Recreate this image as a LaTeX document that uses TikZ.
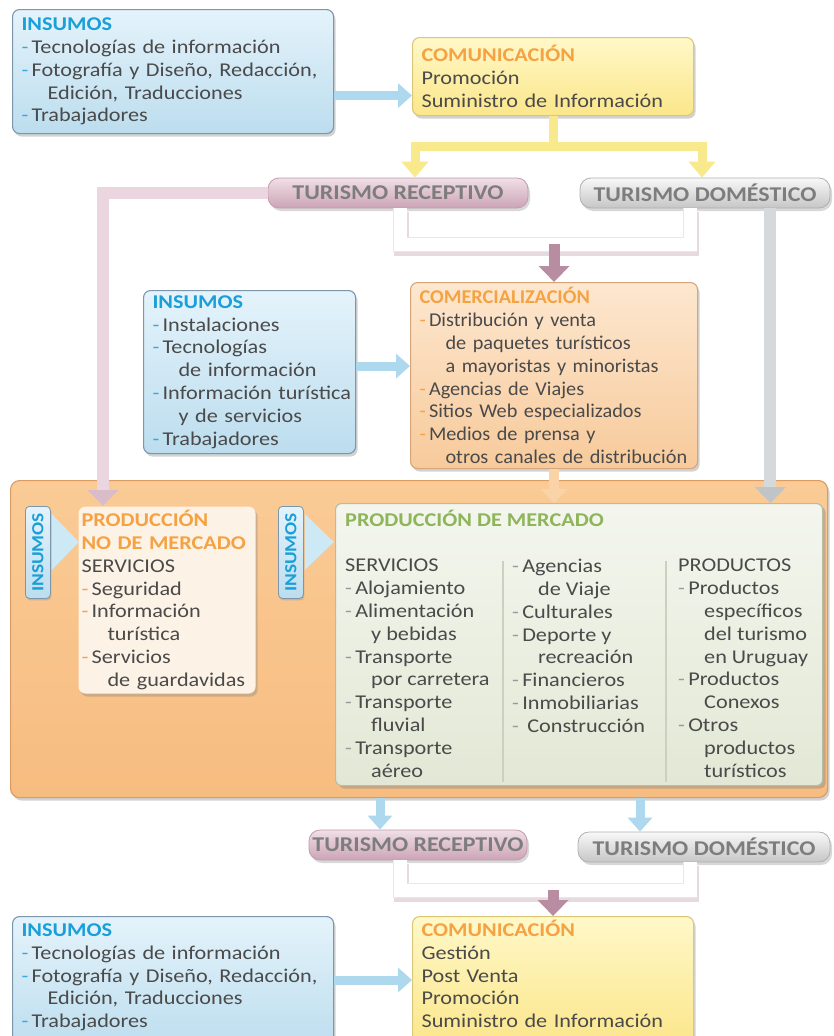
\documentclass[tikz,border=0pt]{standalone}
\usepackage{fontspec}
\usepackage{graphicx}
\setmainfont{Carlito}[FakeStretch=1.14]
\newfontfamily\condf{Carlito}[FakeStretch=1.04]
\usetikzlibrary{arrows.meta,shadows,calc}
\definecolor{ttlblue}{HTML}{1A9FD8}
\definecolor{bulblue}{HTML}{3AA8DC}
\definecolor{ttlorange}{HTML}{F5A243}
\definecolor{ttlgreen}{HTML}{8DB55A}
\definecolor{bulgray}{HTML}{9A9A9A}
\definecolor{txt}{HTML}{4A4A4A}
\definecolor{turtxt}{HTML}{7D7D7D}
\definecolor{bf1}{HTML}{E4F3FB}
\definecolor{bf2}{HTML}{BCDDEE}
\definecolor{bbord}{HTML}{7C97AB}
\definecolor{yf1}{HTML}{FFF8C8}
\definecolor{yf2}{HTML}{FBE68A}
\definecolor{ybord}{HTML}{DCC678}
\definecolor{cf1}{HTML}{FDE7CF}
\definecolor{cf2}{HTML}{F7CA9B}
\definecolor{cbord}{HTML}{D7A57A}
\definecolor{gf1}{HTML}{FACB96}
\definecolor{gf2}{HTML}{F7BC80}
\definecolor{gbord}{HTML}{D99C62}
\definecolor{pnmfill}{HTML}{FDF2E6}
\definecolor{pf1}{HTML}{F4F6EE}
\definecolor{pf2}{HTML}{E2E8D5}
\definecolor{pbord}{HTML}{B5BDA4}
\definecolor{rf1}{HTML}{F0DFE6}
\definecolor{rf2}{HTML}{CCA4B5}
\definecolor{rbord}{HTML}{C29CAC}
\definecolor{df1}{HTML}{F8F8F8}
\definecolor{df2}{HTML}{C6C6C6}
\definecolor{dbord}{HTML}{B0B0B0}
\definecolor{arrblue}{HTML}{AED8EE}
\definecolor{arryel}{HTML}{F8EA8C}
\definecolor{pinkl}{HTML}{EBD5DF}
\definecolor{pinkt}{HTML}{D8BCC8}
\definecolor{grayl}{HTML}{D5D9DB}
\definecolor{grayt}{HTML}{BFC4C7}
\definecolor{mauve}{HTML}{B98DA1}
\definecolor{orarr}{HTML}{FAD3A8}
\definecolor{tabarr}{HTML}{CDE9F6}
\definecolor{brshadow}{HTML}{E6DADF}
\newcommand\bodyf{\fontsize{19.5}{22.8}\selectfont}
\newcommand\turf{\fontsize{21}{24}\selectfont\bfseries}
\newcommand\tabf{\fontsize{17}{20}\selectfont\bfseries}
\newcommand\ttB[1]{\textcolor{ttlblue}{\bfseries #1}}
\newcommand\ttO[1]{\textcolor{ttlorange}{\bfseries #1}}
\newcommand\ttG[1]{\textcolor{ttlgreen}{\bfseries #1}}
\newcommand\bbu{\textcolor{bulblue}{-}\,}
\newcommand\obu{\textcolor{ttlorange}{-}\,}
\newcommand\gbu{\textcolor{bulgray}{-}\,}
\newcommand\indd{\hspace*{26pt}}
\begin{document}
\begin{tikzpicture}[x=1pt,y=-1pt,
  box/.style={rounded corners=7pt, line width=1.1pt,
    drop shadow={shadow xshift=2pt,shadow yshift=-3pt,opacity=.35},
    inner xsep=9pt, inner ysep=3pt, align=left, anchor=north west,
    font=\bodyf, text=txt},
  bluebox/.style={box, top color=bf1, bottom color=bf2, draw=bbord},
  yelbox/.style={box, top color=yf1, bottom color=yf2, draw=ybord},
  combox/.style={box, top color=cf1, bottom color=cf2, draw=cbord, font=\condf\bodyf},
  bigbox/.style={rounded corners=9pt, line width=1.1pt, top color=gf1, bottom color=gf2,
    draw=gbord, anchor=north west, inner sep=0pt,
    drop shadow={shadow xshift=2pt,shadow yshift=-3pt,opacity=.35}},
  pnmbox/.style={box, fill=pnmfill, draw=none, inner xsep=3pt},
  pmbox/.style={rounded corners=6pt, line width=1.1pt, top color=pf1, bottom color=pf2,
    draw=pbord, anchor=north west, inner sep=0pt,
    drop shadow={shadow xshift=3pt,shadow yshift=-3pt,opacity=.4}},
  coltext/.style={anchor=north west, inner sep=0pt, align=left, font=\bodyf, text=txt},
  tur/.style={rounded corners=11pt, minimum height=30pt, inner sep=0pt, font=\turf, text=turtxt,
    line width=0.8pt, drop shadow={shadow xshift=2pt,shadow yshift=-3pt,opacity=.3}},
  turR/.style={tur, top color=rf1, bottom color=rf2, draw=rbord},
  turD/.style={tur, top color=df1, bottom color=df2, draw=dbord},
  tabbox/.style={rounded corners=4pt, minimum width=25pt, minimum height=92pt, inner sep=0pt,
    top color=bf1, bottom color=bf2, draw=bbord, line width=0.8pt, font=\tabf, text=ttlblue,
    anchor=north west, drop shadow={shadow xshift=1pt,shadow yshift=-2pt,opacity=.3}},
  blarr/.style={line width=9pt, draw=arrblue, -{Triangle[width=24pt,length=14pt]}},
  yarr/.style={line width=9pt, draw=arryel, -{Triangle[width=26pt,length=16pt]}},
  pinkarr/.style={line width=12pt, draw=pinkl, -{Triangle[width=30pt,length=16pt,color=pinkt]}},
  grayarr/.style={line width=12pt, draw=grayl, -{Triangle[width=30pt,length=16pt,color=grayt]}},
  mauvearr/.style={line width=11pt, draw=mauve, -{Triangle[width=30pt,length=16pt]}},
  orarrow/.style={line width=10pt, draw=orarr, -{Triangle[width=26pt,length=14pt]}},
  whitebr/.style={line width=0.8pt, draw=black!9, double=white, double distance=13pt,
    preaction={draw=brshadow, line width=15pt, transform canvas={xshift=1pt,yshift=-4pt}}},
  divline/.style={draw=pbord!70, line width=1.4pt}
]
\path[use as bounding box, fill=white] (0,0) rectangle (834,1036);

% big production area first (background)
\node[bigbox, minimum width=817pt, minimum height=317pt] (big) at (10,480) {};

% top row
\node[bluebox, text width=303pt, minimum height=124pt] (A) at (12,9)
 {\ttB{INSUMOS}\\
  \bbu Tecnologías de información\\
  \mbox{\bbu Fotografía y Diseño, Redacción,}\\
  \indd Edición, Traducciones\\
  \bbu Trabajadores};
\node[yelbox, text width=263pt, minimum height=78pt] (B) at (412,37)
 {\ttO{COMUNICACIÓN}\\Promoción\\Suministro de Información};

\node[turR, minimum width=260pt] (turR1) at (398,193) {TURISMO RECEPTIVO};
\node[turD, minimum width=250pt] (turD1) at (705,193) {TURISMO DOMÉSTICO};

% middle
\node[bluebox, text width=194pt, minimum height=163pt] (C) at (143,290)
 {\ttB{INSUMOS}\\
  \bbu Instalaciones\\
  \bbu Tecnologías\\
  \indd de información\\
  \mbox{\bbu Información turística}\\
  \indd y de servicios\\
  \bbu Trabajadores};
\node[combox, text width=269pt, minimum height=186pt] (D) at (410,282)
 {\ttO{COMERCIALIZACIÓN}\\
  \obu Distribución y venta\\
  \indd de paquetes turísticos\\
  \indd\mbox{a mayoristas y minoristas}\\
  \obu Agencias de Viajes\\
  \obu Sitios Web especializados\\
  \obu Medios de prensa y\\
  \indd\mbox{otros canales de distribución}};

% production boxes
\node[tabbox] (t1) at (25,506) {\rotatebox{90}{INSUMOS}};
\node[pnmbox, text width=171pt, minimum height=187pt] (pnm) at (78,506)
 {\ttO{PRODUCCIÓN}\\
  \ttO{\mbox{NO DE MERCADO}}\\
  SERVICIOS\\
  \obu Seguridad\\
  \obu Información\\
  \indd turística\\
  \obu Servicios\\
  \indd\mbox{de guardavidas}};
\node[tabbox] (t2) at (278,506) {\rotatebox{90}{INSUMOS}};
\node[pmbox, minimum width=487pt, minimum height=282pt] (pm) at (335,503) {};
\node[coltext] (pmt) at (345,510) {\ttG{PRODUCCIÓN DE MERCADO}};
\node[coltext] (c1) at (345,559)
 {SERVICIOS\\
  \gbu Alojamiento\\
  \gbu Alimentación\\
  \indd y bebidas\\
  \gbu Transporte\\
  \indd\mbox{por carretera}\\
  \gbu Transporte\\
  \indd fluvial\\
  \gbu Transporte\\
  \indd aéreo};
\node[coltext] (c2) at (512,559)
 {\gbu Agencias\\
  \indd de Viaje\\
  \gbu Culturales\\
  \gbu Deporte y\\
  \indd recreación\\
  \gbu Financieros\\
  \gbu Inmobiliarias\\
  \gbu\ Construcción};
\node[coltext] (c3) at (678,559)
 {PRODUCTOS\\
  \gbu Productos\\
  \indd específicos\\
  \indd del turismo\\
  \indd en Uruguay\\
  \gbu Productos\\
  \indd Conexos\\
  \gbu Otros\\
  \indd productos\\
  \indd turísticos};
\draw[divline] ($(pm.north west)+(168,58)$) -- ($(pm.south west)+(168,-4)$);
\draw[divline] ($(pm.north west)+(331,58)$) -- ($(pm.south west)+(331,-4)$);

% tab arrows
\fill[tabarr] ($(t1.north east)+(1,8)$) -- ($(t1.north east)+(1,64)$) -- ($(t1.north east)+(28,36)$) -- cycle;
\fill[tabarr] ($(t2.north east)+(1,8)$) -- ($(t2.north east)+(1,64)$) -- ($(t2.north east)+(30,36)$) -- cycle;

% bottom
\node[turR, minimum width=218pt] (turR2) at (418,845) {TURISMO RECEPTIVO};
\node[turD, minimum width=252pt] (turD2) at (704,847) {TURISMO DOMÉSTICO};
\node[bluebox, text width=303pt] (E) at (12,916)
 {\rule{0pt}{17pt}\ttB{INSUMOS}\\
  \bbu Tecnologías de información\\
  \mbox{\bbu Fotografía y Diseño, Redacción,}\\
  \indd Edición, Traducciones\\
  \bbu Trabajadores\par\vspace*{16pt}};
\node[yelbox, text width=263pt] (F) at (412,916)
 {\rule{0pt}{17pt}\ttO{COMUNICACIÓN}\\Gestión\\Post Venta\\Promoción\\Suministro de Información\par\vspace*{16pt}};

% connectors: top
\coordinate (a1) at ([yshift=-24pt]A.east);
\draw[blarr] (a1) -- (a1 -| B.west);
\coordinate (yj) at ($(B.south)+(0,30)$);
\draw[yarr] (B.south) -- (yj) -| ([xshift=17pt]turR1.north);
\draw[yarr] (yj) -| ([xshift=-3pt]turD1.north);

\draw[pinkarr] (turR1.west) -| ($(pnm.north west)+(25,0)$);
\draw[grayarr] ([xshift=-60pt]turD1.south east) -- ([xshift=-60pt]turD1.south east |- pm.north);

\coordinate (w1) at ($(turR1.south)+(2,36)$);
\draw[whitebr] ([xshift=2pt]turR1.south) -- (w1) -| ([xshift=-15pt]turD1.south);
\draw[mauvearr] (D.north |- w1) -- (D.north);

\coordinate (c1a) at ([yshift=6pt]C.east);
\draw[blarr] (c1a) -- (c1a -| D.west);
\draw[orarrow] (D.south) -- (D.south |- pm.north);

% connectors: bottom
\draw[blarr] ([xshift=-38pt]turR2.north |- big.south) -- ([xshift=-38pt]turR2.north);
\draw[blarr] ([xshift=-64pt]turD2.north |- big.south) -- ([xshift=-64pt]turD2.north);
\coordinate (w2) at ($(turR2.south)+(-18,30)$);
\draw[whitebr] ([xshift=-18pt]turR2.south) -- (w2) -| ([xshift=-14pt]turD2.south);
\draw[mauvearr] (F.north |- w2) -- (F.north);
\coordinate (e1) at ([yshift=-64pt]E.north east);
\draw[blarr] (e1) -- (e1 -| F.west);
\end{tikzpicture}
\end{document}
